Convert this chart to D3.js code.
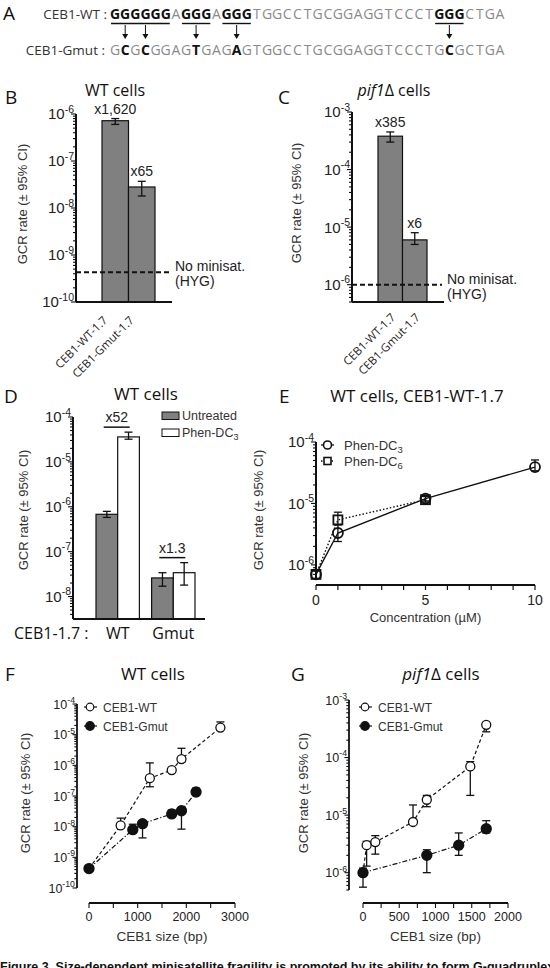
<!DOCTYPE html>
<html><head><meta charset="utf-8">
<script src="https://cdn.jsdelivr.net/npm/d3@7"></script>
<style>body{margin:0;background:#fff} svg{display:block}</style>
</head><body>
<svg id="fig" width="550" height="968"></svg>
<script>
// ---------------- DATA ----------------
const seqWT   = "GGGGGGAGGGAGGGTGGCCTGCGGAGGTCCCTGGGCTGA";
const seqGmut = "GCGCGGAGTGAGAGTGGCCTGCGGAGGTCCCTGCGCTGA";
const wtGRuns = [[0,5],[7,9],[11,13],[32,34]];
const mutSites = [1,3,8,12,33];

const bCats = ["CEB1-WT-1.7","CEB1-Gmut-1.7"];
const bRate = [7.2e-7, 2.8e-8];
const bLow  = [6.0e-7, 1.8e-8];
const bHigh = [8.0e-7, 3.7e-8];
const bFold = ["x1,620","x65"];
const bNoMinisat = 4.3e-10;

const cCats = ["CEB1-WT-1.7","CEB1-Gmut-1.7"];
const cRate = [3.8e-4, 6.0e-6];
const cLow  = [3.0e-4, 5.0e-6];
const cHigh = [4.5e-4, 8.0e-6];
const cFold = ["x385","x6"];
const cNoMinisat = 1.0e-6;

const dGroups = ["WT","Gmut"];
const dSeries = ["Untreated","Phen-DC3"];
const dUntreated = [6.8e-7, 2.6e-8];
const dUntreatedLow = [5.8e-7, 1.7e-8];
const dUntreatedHigh = [7.9e-7, 3.4e-8];
const dPhen = [3.6e-5, 3.4e-8];
const dPhenLow = [3.2e-5, 1.8e-8];
const dPhenHigh = [4.6e-5, 5.7e-8];
const dFold = ["x52","x1.3"];

const eConcDC3 = [0,1,5,10];
const eRateDC3 = [7.0e-7, 3.3e-6, 1.2e-5, 3.9e-5];
const eLowDC3  = [6.0e-7, 2.4e-6, 1.1e-5, 3.4e-5];
const eHighDC3 = [8.0e-7, 4.5e-6, 1.3e-5, 5.1e-5];
const eConcDC6 = [0,1,5];
const eRateDC6 = [7.0e-7, 5.4e-6, 1.15e-5];
const eLowDC6  = [6.0e-7, 4.5e-6, 1.05e-5];
const eHighDC6 = [8.0e-7, 7.2e-6, 1.3e-5];

const fSizeWT = [0,650,1250,1700,1900,2700];
const fRateWT = [4.3e-10, 1.1e-8, 3.8e-7, 7.0e-7, 1.6e-6, 1.7e-5];
const fLowWT  = [4.3e-10, 9.0e-9, 2.0e-7, 6.0e-7, 1.3e-6, 1.5e-5];
const fHighWT = [4.3e-10, 1.9e-8, 1.2e-6, 8.0e-7, 3.6e-6, 2.6e-5];
const fSizeMut = [0,900,1100,1700,1900,2200];
const fRateMut = [4.3e-10, 8.0e-9, 1.25e-8, 2.6e-8, 3.3e-8, 1.35e-7];
const fLowMut  = [4.3e-10, 6.5e-9, 4.3e-9, 2.1e-8, 8.3e-9, 1.1e-7];
const fHighMut = [4.3e-10, 1.2e-8, 1.5e-8, 3.5e-8, 4.0e-8, 1.8e-7];

const gSizeWT = [0,50,170,690,880,1480,1700];
const gRateWT = [1.0e-6, 3.0e-6, 3.4e-6, 7.6e-6, 1.85e-5, 7.0e-5, 3.7e-4];
const gLowWT  = [1.0e-6, 1.3e-6, 2.1e-6, 7.0e-6, 1.4e-5, 2.2e-5, 2.8e-4];
const gHighWT = [1.0e-6, 3.5e-6, 4.4e-6, 1.5e-5, 2.2e-5, 8.5e-5, 3.7e-4];
const gSizeMut = [0,880,1320,1700];
const gRateMut = [1.0e-6, 2.0e-6, 3.0e-6, 5.8e-6];
const gLowMut  = [5.6e-7, 1.0e-6, 2.0e-6, 4.9e-6];
const gHighMut = [1.2e-6, 2.5e-6, 4.9e-6, 8.0e-6];

const yLabel = "GCR rate (\u00B1 95% CI)";
const caption = "Figure 3. Size-dependent minisatellite fragility is promoted by its ability to form G-quadruplexes";

// ---------------- HELPERS ----------------
const SANS = "'Liberation Sans', Arial, sans-serif";
const HUM = "'Open Sans', 'Noto Sans', sans-serif";
const INK = "#111";
const svg = d3.select("#fig");

function txt(g, x, y, s, o={}) {
  const t = g.append("text").attr("x", x).attr("y", y).text(s)
    .style("font-family", o.ff || SANS).style("font-size", (o.fs||12)+"px")
    .attr("fill", o.fill || "#222").attr("text-anchor", o.anchor || "start");
  if (o.fw) t.style("font-weight", o.fw);
  if (o.rot !== undefined) t.attr("transform", `rotate(${o.rot},${x},${y})`);
  return t;
}
function logAxis(g, y, x0, fs, tl, sw) {
  const [d0, d1] = y.domain();
  g.append("line").attr("x1", x0).attr("x2", x0).attr("y1", y(d0)).attr("y2", y(d1))
    .attr("stroke", INK).attr("stroke-width", sw);
  y.ticks().forEach(v => {
    const e = Math.round(Math.log10(v));
    const major = Math.abs(v / Math.pow(10, e) - 1) < 1e-6;
    const yy = y(v);
    g.append("line").attr("x1", x0 - (major ? tl : tl*0.6)).attr("x2", x0)
      .attr("y1", yy).attr("y2", yy).attr("stroke", INK).attr("stroke-width", 1.1);
    if (major) {
      const t = g.append("text").attr("x", x0 - 2).attr("y", yy + fs*0.36)
        .attr("text-anchor", "end").style("font-family", SANS).style("font-size", fs+"px").attr("fill", "#222");
      t.append("tspan").text("10");
      t.append("tspan").attr("dy", -fs*0.45).style("font-size", (fs*0.7)+"px").text("-" + (-e));
    }
  });
}
function errBar(g, x, y1, y2, hw) {
  g.append("line").attr("x1", x).attr("x2", x).attr("y1", y1).attr("y2", y2).attr("stroke", INK).attr("stroke-width", 1.3);
  [y1, y2].forEach(yy => g.append("line").attr("x1", x-hw).attr("x2", x+hw).attr("y1", yy).attr("y2", yy)
    .attr("stroke", INK).attr("stroke-width", 1.3));
}
function yTitle(g, x, y) { txt(g, x, y, yLabel, {fs: 13, anchor: "middle", rot: -90, fill: "#333"}); }
function panelLetter(x, y, s) { txt(svg, x, y, s, {ff: HUM, fs: 19, fill: "#111"}); }
function title(x, y, parts, fs) {
  const t = svg.append("text").attr("x", x).attr("y", y).attr("text-anchor", "middle")
    .style("font-family", HUM).style("font-size", (fs||17) + "px").attr("fill", "#111");
  parts.forEach(p => { const s = t.append("tspan").text(p[0]); if (p[1]) s.style("font-style", "italic"); });
}

// ---------------- PANEL A ----------------
(function(){
  const g = svg.append("g");
  panelLetter(3, 20, "A");
  const x0 = 110, step = 10.13;
  const cx = i => x0 + step*(i+0.5);
  txt(g, 107, 19, "CEB1-WT :", {ff: HUM, fs: 13.5, anchor: "end", fill: "#333"});
  txt(g, 105, 55, "CEB1-Gmut :", {ff: HUM, fs: 13.5, anchor: "end", fill: "#333"});
  const inRun = i => wtGRuns.some(r => i >= r[0] && i <= r[1]);
  seqWT.split("").forEach((ch, i) => {
    const b = inRun(i);
    txt(g, cx(i), 19, ch, {ff: HUM, fs: 14, anchor: "middle", fill: b ? "#111" : "#8a8a8a", fw: b ? "bold" : null});
  });
  seqGmut.split("").forEach((ch, i) => {
    const b = mutSites.includes(i);
    txt(g, cx(i), 55, ch, {ff: HUM, fs: 14, anchor: "middle", fill: b ? "#111" : "#8a8a8a", fw: b ? "bold" : null});
  });
  wtGRuns.forEach(r => g.append("line").attr("x1", x0+step*r[0]+1).attr("x2", x0+step*(r[1]+1)-1)
    .attr("y1", 23.5).attr("y2", 23.5).attr("stroke", "#111").attr("stroke-width", 1.4));
  mutSites.forEach(i => {
    g.append("line").attr("x1", cx(i)).attr("x2", cx(i)).attr("y1", 25).attr("y2", 35).attr("stroke", "#111").attr("stroke-width", 1);
    g.append("path").attr("d", `M${cx(i)-3},34 L${cx(i)+3},34 L${cx(i)},39 Z`).attr("fill", "#111");
  });
})();

// ---------------- BAR PANELS B & C ----------------
function barPanel(opt) {
  const g = svg.append("g");
  const y = d3.scaleLog().domain(opt.domain).range(opt.yr);
  const x = d3.scaleBand().domain(opt.cats).range(opt.xr).padding(0);
  const yb = y(opt.domain[0]);
  opt.cats.forEach((c, i) => {
    g.append("rect").attr("x", x(c)).attr("y", y(opt.rate[i])).attr("width", x.bandwidth())
      .attr("height", yb - y(opt.rate[i])).attr("fill", "#808080").attr("stroke", INK).attr("stroke-width", 1.2);
  });
  opt.cats.forEach((c, i) => {
    const xc = x(c) + x.bandwidth()/2;
    errBar(g, xc, y(opt.low[i]), y(opt.high[i]), 4);
    txt(g, xc, y(opt.high[i]) - 5, opt.fold[i], {fs: 14, anchor: "middle"});
    txt(g, xc + opt.lblDx, opt.lblY, c, {ff: HUM, fs: 11.5, anchor: "end", rot: -45, fill: "#222"});
  });
  g.append("line").attr("x1", opt.ax).attr("x2", opt.axEnd - 2).attr("y1", y(opt.base)).attr("y2", y(opt.base))
    .attr("stroke", INK).attr("stroke-width", 2).attr("stroke-dasharray", "5,3");
  txt(g, opt.axEnd + 3, y(opt.base) - 1, "No minisat.", {fs: 14});
  txt(g, opt.axEnd + 3, y(opt.base) + 14, "(HYG)", {fs: 14});
  g.append("line").attr("x1", opt.ax).attr("x2", opt.axEnd).attr("y1", yb).attr("y2", yb).attr("stroke", INK).attr("stroke-width", 2);
  logAxis(g, y, opt.ax, 15, 5, 2);
}
panelLetter(5, 104, "B");
title(115, 96, [["WT cells"]], 16);
yTitle(svg, 27, 204);
barPanel({domain: [1e-10, 1e-6], yr: [302, 114], cats: bCats, xr: [102, 155], rate: bRate, low: bLow, high: bHigh,
  fold: bFold, base: bNoMinisat, ax: 76, axEnd: 172, lblDx: -7, lblY: 321});
panelLetter(278, 104, "C");
title(394, 96, [["pif1", true], ["\u0394 cells"]], 16);
yTitle(svg, 301, 203);
barPanel({domain: [5e-7, 1e-3], yr: [302, 112], cats: cCats, xr: [378, 427], rate: cRate, low: cLow, high: cHigh,
  fold: cFold, base: cNoMinisat, ax: 352, axEnd: 444, lblDx: 6, lblY: 318});

// ---------------- PANEL D ----------------
(function(){
  const g = svg.append("g");
  panelLetter(4, 403, "D");
  title(146, 400, [["WT cells"]]);
  yTitle(g, 28, 510);
  const y = d3.scaleLog().domain([Math.pow(10, -8.5), 1e-4]).range([619, 417]);
  const x = d3.scaleBand().domain(dGroups).range([96, 195]).paddingInner(0.22).paddingOuter(0);
  const xs = d3.scaleBand().domain(dSeries).range([0, x.bandwidth()]).padding(0);
  const vals = [dUntreated, dPhen], lows = [dUntreatedLow, dPhenLow], highs = [dUntreatedHigh, dPhenHigh];
  const fills = ["#808080", "#ffffff"];
  const yb = y.range()[0];
  dGroups.forEach((gr, gi) => {
    dSeries.forEach((s, si) => {
      const v = vals[si][gi];
      g.append("rect").attr("x", x(gr) + xs(s)).attr("y", y(v)).attr("width", xs.bandwidth())
        .attr("height", yb - y(v)).attr("fill", fills[si]).attr("stroke", INK).attr("stroke-width", 1.2);
    });
    dSeries.forEach((s, si) => {
      errBar(g, x(gr) + xs(s) + xs.bandwidth()/2, y(lows[si][gi]), y(highs[si][gi]), 4);
    });
    const cxg = x(gr) + x.bandwidth()/2 - 1;
    const yl = y(Math.max(highs[0][gi], highs[1][gi])) - 5;
    g.append("line").attr("x1", cxg - 13).attr("x2", cxg + 13).attr("y1", yl).attr("y2", yl).attr("stroke", INK).attr("stroke-width", 1.5);
    txt(g, cxg, yl - 5, dFold[gi], {fs: 14, anchor: "middle"});
    txt(g, x(gr) + x.bandwidth()/2, 639, gr, {ff: HUM, fs: 16, anchor: "middle", fill: "#111"});
  });
  txt(g, 14, 639, "CEB1-1.7 :", {ff: HUM, fs: 16, fill: "#111"});
  g.append("line").attr("x1", 73).attr("x2", 205).attr("y1", yb).attr("y2", yb).attr("stroke", INK).attr("stroke-width", 2);
  logAxis(g, y, 73, 15, 5, 2);
  // legend
  dSeries.forEach((s, i) => {
    g.append("rect").attr("x", 162).attr("y", 412 + i*17).attr("width", 17).attr("height", 7.5)
      .attr("fill", fills[i]).attr("stroke", INK).attr("stroke-width", 1);
    const t = txt(g, 182, 419.5 + i*17, "", {fs: 12.5, fill: "#333"});
    if (s === "Phen-DC3") { t.append("tspan").text("Phen-DC"); t.append("tspan").attr("dy", 3).style("font-size", "9px").text("3"); }
    else t.text(s);
  });
})();

// ---------------- PANEL E ----------------
(function(){
  const g = svg.append("g");
  panelLetter(279, 403, "E");
  title(417, 402, [["WT cells, CEB1-WT-1.7"]]);
  yTitle(g, 263, 510);
  const x = d3.scaleLinear().domain([0, 10]).range([316, 535]);
  const y = d3.scaleLog().domain([Math.pow(10, -6.23), 1e-4]).range([579, 442]);
  logAxis(g, y, 316, 15, 5, 2);
  g.append("line").attr("x1", 316).attr("x2", 535).attr("y1", 585).attr("y2", 585).attr("stroke", INK).attr("stroke-width", 2);
  x.ticks(10).forEach(v => {
    g.append("line").attr("x1", x(v)).attr("x2", x(v)).attr("y1", 585).attr("y2", 590).attr("stroke", INK).attr("stroke-width", 1.2);
    if (v % 5 === 0) txt(g, x(v), 605, String(v), {fs: 14, anchor: "middle"});
  });
  txt(g, x(5), 622, "Concentration (\u00B5M)", {fs: 13, anchor: "middle", fill: "#333"});
  const series = [
    {c: eConcDC6, r: eRateDC6, lo: eLowDC6, hi: eHighDC6, dash: "1.5,2", shape: "sq"},
    {c: eConcDC3, r: eRateDC3, lo: eLowDC3, hi: eHighDC3, dash: null, shape: "ci"}
  ];
  series.forEach(s => {
    s.c.forEach((c, i) => errBar(g, x(c), y(s.lo[i]), y(s.hi[i]), 4));
  });
  series.forEach(s => {
    const line = d3.line().x((d, i) => x(s.c[i])).y(d => y(d));
    const p = g.append("path").attr("d", line(s.r)).attr("fill", "none").attr("stroke", INK).attr("stroke-width", 1.4);
    if (s.dash) p.attr("stroke-dasharray", s.dash);
  });
  series.forEach(s => {
    s.c.forEach((c, i) => {
      if (s.shape === "sq") g.append("rect").attr("x", x(c) - 4.5).attr("y", y(s.r[i]) - 4.5).attr("width", 9).attr("height", 9)
        .attr("fill", "none").attr("stroke", INK).attr("stroke-width", 1.8);
      else g.append("circle").attr("cx", x(c)).attr("cy", y(s.r[i])).attr("r", 5).attr("fill", "none").attr("stroke", INK).attr("stroke-width", 1.8);
    });
  });
  // legend
  [["3", "ci", null], ["6", "sq", "1.5,2"]].forEach((l, i) => {
    const yy = 445 + i*16;
    const ln = g.append("line").attr("x1", 321).attr("x2", 334).attr("y1", yy).attr("y2", yy).attr("stroke", INK).attr("stroke-width", 1.3);
    if (l[2]) ln.attr("stroke-dasharray", l[2]);
    if (l[1] === "ci") g.append("circle").attr("cx", 327.5).attr("cy", yy).attr("r", 4).attr("fill", "#fff").attr("stroke", INK).attr("stroke-width", 1.6);
    else g.append("rect").attr("x", 324).attr("y", yy - 3.5).attr("width", 7).attr("height", 7).attr("fill", "#fff").attr("stroke", INK).attr("stroke-width", 1.6);
    const t = txt(g, 344, yy + 4.5, "", {fs: 13, fill: "#333"});
    t.append("tspan").text("Phen-DC"); t.append("tspan").attr("dy", 3).style("font-size", "9.5px").text(l[0]);
  });
})();

// ---------------- PANELS F & G ----------------
function sizePanel(opt) {
  const g = svg.append("g");
  const x = d3.scaleLinear().domain(opt.xd).range(opt.xr);
  const y = d3.scaleLog().domain(opt.yd).range(opt.yr);
  logAxis(g, y, opt.ax, 12.5, 4.5, 1.8);
  g.append("line").attr("x1", opt.xr[0]).attr("x2", opt.xr[1]).attr("y1", 903).attr("y2", 903).attr("stroke", INK).attr("stroke-width", 1.8);
  d3.range(opt.xd[0], opt.xd[1] + 1, opt.minor).forEach(v => {
    g.append("line").attr("x1", x(v)).attr("x2", x(v)).attr("y1", 903).attr("y2", 908).attr("stroke", INK).attr("stroke-width", 1.1);
    if (v % opt.major === 0) txt(g, x(v), 921, String(v), {fs: 12.5, anchor: "middle"});
  });
  txt(g, (opt.xr[0] + opt.xr[1]) / 2, 941, "CEB1 size (bp)", {fs: 13.5, anchor: "middle", fill: "#333"});
  const series = [
    {s: opt.sMut, r: opt.rMut, lo: opt.loMut, hi: opt.hiMut, dash: "5,2,1.2,2", fill: "#111"},
    {s: opt.sWT, r: opt.rWT, lo: opt.loWT, hi: opt.hiWT, dash: "3.5,2.5", fill: "#fff"}
  ];
  series.forEach(d => d.s.forEach((c, i) => { if (d.lo[i] !== d.hi[i]) errBar(g, x(c), y(d.lo[i]), y(d.hi[i]), 4); }));
  series.forEach(d => {
    const line = d3.line().x((v, i) => x(d.s[i])).y(v => y(v));
    g.append("path").attr("d", line(d.r)).attr("fill", "none").attr("stroke", INK).attr("stroke-width", 1.2).attr("stroke-dasharray", d.dash);
  });
  series.slice().reverse().forEach(d => d.s.forEach((c, i) => {
    g.append("circle").attr("cx", x(c)).attr("cy", y(d.r[i])).attr("r", d.fill === "#fff" ? 4.5 : 5)
      .attr("fill", d.fill).attr("stroke", INK).attr("stroke-width", 1.3);
  }));
  // legend
  [["CEB1-WT", "#fff"], ["CEB1-Gmut", "#111"]].forEach((l, i) => {
    const yy = 707 + i*19;
    g.append("line").attr("x1", opt.lx - 6).attr("x2", opt.lx + 7).attr("y1", yy).attr("y2", yy).attr("stroke", INK).attr("stroke-width", 1.2);
    g.append("circle").attr("cx", opt.lx).attr("cy", yy).attr("r", l[1] === "#fff" ? 3.8 : 4.3).attr("fill", l[1]).attr("stroke", INK).attr("stroke-width", 1.2);
    txt(g, opt.lx + 13, yy + 4.5, l[0], {fs: 12, fill: "#333"});
  });
}
panelLetter(5, 681, "F");
title(153, 680, [["WT cells"]]);
yTitle(svg, 30, 793);
sizePanel({xd: [0, 3000], xr: [89, 235], yd: [1e-10, 1e-4], yr: [888, 704], ax: 77, minor: 500, major: 1000, lx: 90,
  sWT: fSizeWT, rWT: fRateWT, loWT: fLowWT, hiWT: fHighWT, sMut: fSizeMut, rMut: fRateMut, loMut: fLowMut, hiMut: fHighMut});
panelLetter(291, 681, "G");
title(441, 680, [["pif1", true], ["\u0394 cells"]]);
yTitle(svg, 308, 793);
sizePanel({xd: [0, 2000], xr: [363, 508], yd: [5e-7, 1e-3], yr: [890, 700], ax: 349, minor: 250, major: 500, lx: 365,
  sWT: gSizeWT, rWT: gRateWT, loWT: gLowWT, hiWT: gHighWT, sMut: gSizeMut, rMut: gRateMut, loMut: gLowMut, hiMut: gHighMut});

// caption (cut off at bottom, as in the source page)
txt(svg, 0, 971, caption, {fs: 12.5, fw: "bold", fill: "#111"});
</script>
</body></html>
